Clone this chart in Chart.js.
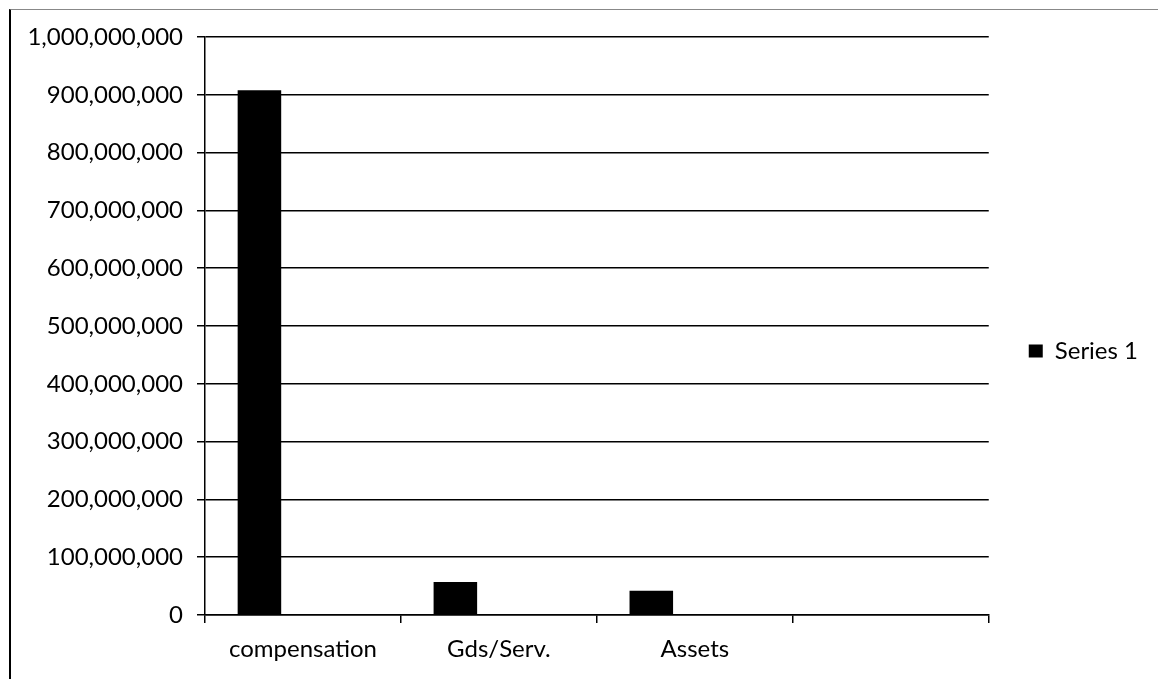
<!DOCTYPE html>
<html>
<head>
<meta charset="utf-8">
<script src="https://cdn.jsdelivr.net/npm/chart.js@4.4.1/dist/chart.umd.min.js"></script>
<style>
  html, body { margin: 0; padding: 0; background: #fff; }
  #wrap { position: relative; width: 1158px; height: 679px; }
  #frame { position: absolute; left: 9px; top: 9px; right: 0; bottom: 0;
           border-left: 2px solid #000; border-top: 1px solid #888; pointer-events: none; }
  canvas { position: absolute; left: 0; top: 0; }
</style>
</head>
<body>
<div id="wrap">
  <canvas id="chart" width="1158" height="679"></canvas>
  <div id="frame"></div>
</div>
<script>
// categories (4th slot is empty in the original)
const categories = ["compensation", "Gds/Serv.", "Assets", ""];
// values
const series1 = [908000000, 57000000, 42000000, null];
const series2 = [null, null, null, null];
const series3 = [null, null, null, null];
const yTicks = [0, 100000000, 200000000, 300000000, 400000000, 500000000,
                600000000, 700000000, 800000000, 900000000, 1000000000];

const FONT = "Lato";

const ctx = document.getElementById("chart").getContext("2d");
new Chart(ctx, {
  type: "bar",
  data: {
    labels: categories,
    datasets: [
      { label: "Series 1", data: series1, backgroundColor: "#000" },
      { label: "Series 2", data: series2, backgroundColor: "#555" },
      { label: "Series 3", data: series3, backgroundColor: "#999" }
    ]
  },
  options: {
    responsive: false,
    animation: false,
    devicePixelRatio: 1,
    categoryPercentage: 0.6667,
    barPercentage: 1,
    layout: { padding: { left: 0, top: 37, right: 10, bottom: 14 } },
    plugins: {
      tooltip: { enabled: false },
      legend: {
        position: "right",
        labels: {
          filter: item => item.datasetIndex === 0,
          boxWidth: 14,
          boxHeight: 13,
          padding: 40,
          color: "#000",
          font: { family: FONT, size: 24 }
        }
      }
    },
    scales: {
      x: {
        grid: { offset: true, drawOnChartArea: false, drawTicks: true, tickLength: 8, color: "#000", lineWidth: 1.5 },
        border: { display: true, color: "#000", width: 1.5 },
        ticks: { color: "#000", padding: 12, font: { family: FONT, size: 24 }, maxRotation: 0 },
        afterFit: s => { s.height = 50; }
      },
      y: {
        min: 0,
        max: 1000000000,
        afterBuildTicks: s => { s.ticks = yTicks.map(v => ({ value: v })); },
        grid: { color: "#000", lineWidth: 1.5, tickLength: 8 },
        border: { display: true, color: "#000", width: 1.5 },
        ticks: {
          color: "#000",
          padding: 14,
          font: { family: FONT, size: 24 },
          callback: v => v.toLocaleString("en-US")
        },
        afterFit: s => { s.width = 205; }
      }
    }
  }
});
</script>
</body>
</html>
